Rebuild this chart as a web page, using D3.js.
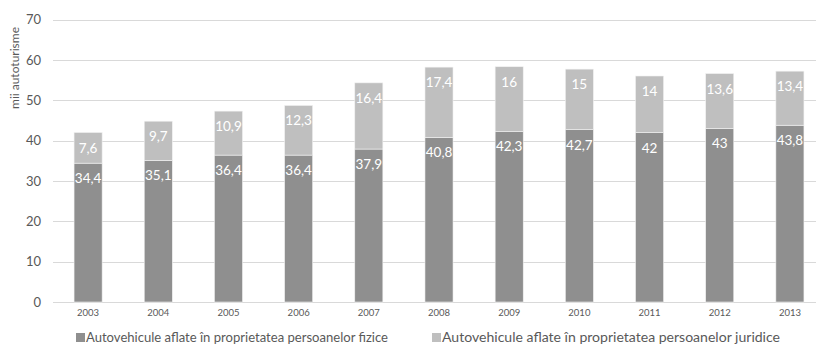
<!DOCTYPE html>
<html>
<head>
<meta charset="utf-8">
<script src="https://cdn.jsdelivr.net/npm/d3@7"></script>
<style>
  body { margin: 0; background: #fff; }
  svg { display: block; font-family: Lato, "Open Sans", sans-serif; }
</style>
</head>
<body>
<div id="content"></div>
<script>
// years and the two stacked series (mii autoturisme)
const years = ["2003", "2004", "2005", "2006", "2007", "2008", "2009", "2010", "2011", "2012", "2013"];
const fizice = [34.4, 35.1, 36.4, 36.4, 37.9, 40.8, 42.3, 42.7, 42, 43, 43.8];
const juridice = [7.6, 9.7, 10.9, 12.3, 16.4, 17.4, 16, 15, 14, 13.6, 13.4];
const yTicks = [0, 10, 20, 30, 40, 50, 60, 70];
const seriesNames = [
    "Autovehicule aflate în proprietatea persoanelor fizice",
    "Autovehicule aflate în proprietatea persoanelor juridice"
];

var width = 816, height = 345;
var colors = ["#8f8f8f", "#bfbfbf"];

var svg = d3.select("#content").append("svg")
    .attr("width", width)
    .attr("height", height);

var xScale = d3.scaleBand()
    .domain(years)
    .range([53, 825])
    .paddingInner(0.6)
    .paddingOuter(0.3);

var yScale = d3.scaleLinear()
    .domain([0, 70])
    .range([302, 19.5]);

// gridlines
svg.append("g")
    .selectAll("line")
    .data(yTicks)
    .enter()
    .append("line")
    .attr("x1", 53)
    .attr("x2", 816)
    .attr("y1", d => Math.round(yScale(d)) + 0.5)
    .attr("y2", d => Math.round(yScale(d)) + 0.5)
    .attr("stroke", "#d9d9d9")
    .attr("stroke-width", 1.2);

// y axis labels
var yAxis = d3.axisLeft(yScale).tickValues(yTicks).tickSize(0).tickPadding(0);
var gy = svg.append("g")
    .attr("transform", "translate(41,0)")
    .call(yAxis);
gy.select(".domain").remove();
gy.selectAll("text")
    .attr("fill", "#595959")
    .style("font-size", "13px")
    .style("font-family", "Lato, 'Open Sans', sans-serif");

// x axis labels
var xAxis = d3.axisBottom(xScale).tickSize(0).tickPadding(0);
var gx = svg.append("g")
    .attr("transform", "translate(0,309)")
    .call(xAxis);
gx.select(".domain").remove();
gx.selectAll("text")
    .attr("fill", "#595959")
    .style("font-size", "9.5px")
    .style("font-family", "Lato, 'Open Sans', sans-serif");

// stacked bars
var rows = years.map((y, i) => ({ year: y, f: fizice[i], j: juridice[i] }));
var keys = ["f", "j"];
var stack = d3.stack().keys(keys);
var layers = stack(rows);
var fmt = v => String(v).replace(".", ",");

layers.forEach(function (layer, k) {
    var g = svg.append("g");
    g.selectAll("rect")
        .data(layer)
        .enter()
        .append("rect")
        .attr("x", d => xScale(d.data.year))
        .attr("width", xScale.bandwidth())
        .attr("y", d => yScale(d[1]))
        .attr("height", d => yScale(d[0]) - yScale(d[1]))
        .attr("fill", colors[k])
        .attr("stroke", "#f2f2f2")
        .attr("stroke-width", 0.6);

    g.selectAll("text")
        .data(layer)
        .enter()
        .append("text")
        .attr("x", d => xScale(d.data.year) + xScale.bandwidth() / 2)
        .attr("y", d => yScale(d[1]) + 20)
        .attr("text-anchor", "middle")
        .attr("fill", "#ffffff")
        .style("font-size", "13.5px")
        .text(d => fmt(d.data[keys[k]]));
});

// y axis title
svg.append("text")
    .attr("transform", "translate(19,68) rotate(-90)")
    .attr("text-anchor", "middle")
    .attr("fill", "#595959")
    .style("font-size", "12px")
    .text("mii autoturisme");

// legend
var legendX = [76, 432];
var legendLen = [302, 338];
seriesNames.forEach(function (name, k) {
    svg.append("rect")
        .attr("x", legendX[k])
        .attr("y", 333)
        .attr("width", 9)
        .attr("height", 9)
        .attr("fill", colors[k]);
    svg.append("text")
        .attr("x", legendX[k] + 10)
        .attr("y", 342)
        .attr("fill", "#595959")
        .attr("textLength", legendLen[k])
        .attr("lengthAdjust", "spacingAndGlyphs")
        .style("font-size", "13.5px")
        .text(name);
});
</script>
</body>
</html>
